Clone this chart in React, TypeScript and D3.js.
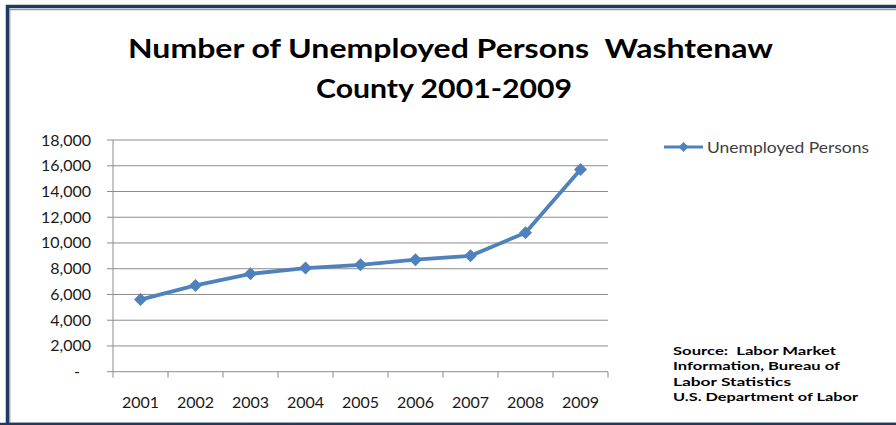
import React from "react";
import * as d3 from "d3";

const years = ["2001", "2002", "2003", "2004", "2005", "2006", "2007", "2008", "2009"];
const unemployed = [5600, 6700, 7600, 8050, 8300, 8700, 9000, 10800, 15700];
const yTicks = [0, 2000, 4000, 6000, 8000, 10000, 12000, 14000, 16000, 18000];
const titleLines = ["Number of Unemployed Persons  Washtenaw", "County 2001-2009"];
const seriesName = "Unemployed Persons";
const sourceLines = ["Source:  Labor Market", "Information, Bureau of", "Labor Statistics", "U.S. Department of Labor"];

const W = 896;
const H = 425;
const BLUE = "#4F81BD";
const GRID = "#8c8c8c";
const FONT = "Lato, 'Open Sans', sans-serif";

export default function App() {
  const x = d3.scaleBand<string>().domain(years).range([113, 608]).padding(0);
  const y = d3.scaleLinear().domain([0, 18000]).range([371.7, 140]);
  const cx = (yr: string) => (x(yr) as number) + x.bandwidth() / 2;

  const line = d3
    .line<number>()
    .x((_, i) => cx(years[i]))
    .y((d) => y(d));

  const diamond = (px: number, py: number, r: number) =>
    `M${px},${py - r}L${px + r},${py}L${px},${py + r}L${px - r},${py}Z`;

  const fmt = (v: number) => (v === 0 ? "-" : d3.format(",")(v));

  const titleWidths = [645, 256];
  const titleBaselines = [58, 98];
  const sourceWidths = [163, 167, 118, 185];

  return (
    <svg
      width={W}
      height={H}
      style={{ position: "absolute", left: 0, top: 0, background: "#fff" }}
      fontFamily={FONT}
    >
      <rect x={0} y={0} width={W} height={H} fill="#fff" />
      {/* frame */}
      <rect x={7.5} y={6.5} width={W + 20} height={H - 6.5 - 0.5} fill="none" stroke="#1F3A60" strokeWidth={3.5} />
      <line x1={9.8} y1={9} x2={9.8} y2={H} stroke="#9a9a9a" strokeWidth={1.2} />
      <line x1={9} y1={9.6} x2={W} y2={9.6} stroke="#9a9a9a" strokeWidth={1.2} />
      <line x1={0} y1={424} x2={W} y2={424} stroke="#1F3A60" strokeWidth={2.5} />

      {/* title */}
      {titleLines.map((t, i) => (
        <text
          key={t}
          x={i === 0 ? 450.5 : 444}
          y={titleBaselines[i]}
          textAnchor="middle"
          fontSize={27}
          fontWeight="bold"
          fill="#000"
          textLength={titleWidths[i]}
          lengthAdjust="spacingAndGlyphs"
          style={{ whiteSpace: "pre" }}
        >
          {t}
        </text>
      ))}

      {/* gridlines + y ticks */}
      {yTicks.map((v) => (
        <g key={v}>
          <line x1={107} x2={608} y1={y(v)} y2={y(v)} stroke={GRID} strokeWidth={1} />
          <text
            x={v === 0 ? 80 : 91}
            y={y(v) + 5.5}
            textAnchor="end"
            fontSize={16}
            fill="#1a1a1a"
          >
            {fmt(v)}
          </text>
        </g>
      ))}

      {/* y axis */}
      <line x1={113} x2={113} y1={140} y2={y(0)} stroke={GRID} strokeWidth={1} />

      {/* x ticks */}
      {[...years.map((yr) => x(yr) as number), 608].map((px, i) => (
        <line key={i} x1={px} x2={px} y1={y(0)} y2={y(0) + 6} stroke={GRID} strokeWidth={1} />
      ))}
      {years.map((yr) => (
        <text key={yr} x={cx(yr)} y={408} textAnchor="middle" fontSize={16} fill="#1a1a1a">
          {yr}
        </text>
      ))}

      {/* series */}
      <path d={line(unemployed) as string} fill="none" stroke={BLUE} strokeWidth={3.8} strokeLinejoin="round" />
      {unemployed.map((v, i) => (
        <path key={i} d={diamond(cx(years[i]), y(v), 6.5)} fill={BLUE} />
      ))}

      {/* legend */}
      <line x1={664} x2={703} y1={147} y2={147} stroke={BLUE} strokeWidth={3} />
      <path d={diamond(683.5, 147, 5)} fill={BLUE} />
      <text x={707} y={153} fontSize={16} fill="#404040" textLength={162} lengthAdjust="spacingAndGlyphs">
        {seriesName}
      </text>

      {/* source */}
      {sourceLines.map((t, i) => (
        <text
          key={t}
          x={673}
          y={355 + i * 15.3}
          fontSize={12}
          fontWeight="bold"
          fill="#000"
          textLength={sourceWidths[i]}
          lengthAdjust="spacingAndGlyphs"
          style={{ whiteSpace: "pre" }}
        >
          {t}
        </text>
      ))}
    </svg>
  );
}
